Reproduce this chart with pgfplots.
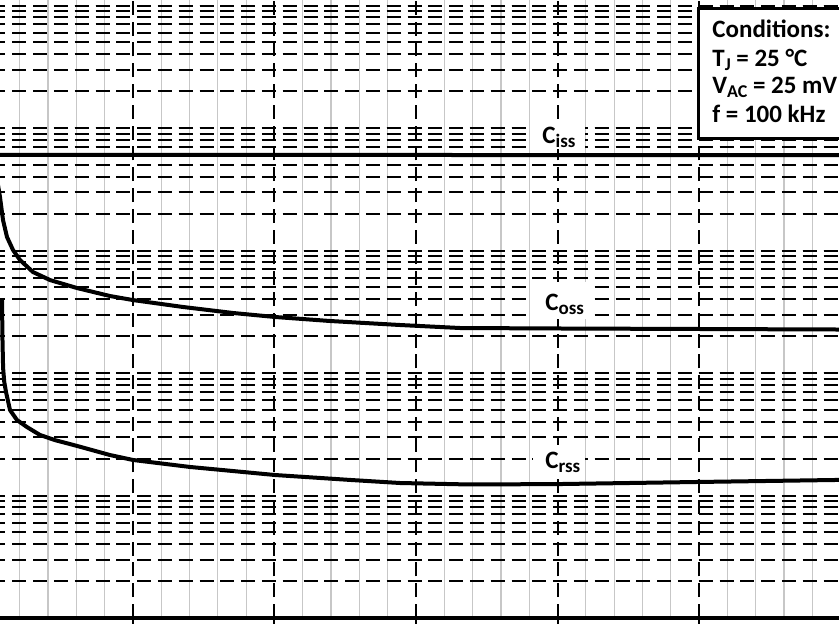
\documentclass[border=0pt]{standalone}
\usepackage{fontspec}
\setmainfont{Carlito}
\newfontfamily\lab{Carlito}[BoldFont={Carlito Bold}]
\usepackage{pgfplots}
\pgfplotsset{compat=1.18}
\begin{document}
\begin{tikzpicture}
\useasboundingbox (0,0) rectangle (419.5pt,311.5pt);
\clip (0,0) rectangle (419.5pt,311.5pt);
\begin{axis}[
  at={(-4.25pt,2.5pt)}, anchor=south west,
  scale only axis, width=424.5pt, height=367.5pt,
  xmin=0, xmax=600, ymode=log, ymin=1, ymax=1e6,
  axis x line*=bottom, axis y line*=left,
  x axis line style={line width=2pt},
  y axis line style={draw=none},
  xtick={0,100,...,600}, minor x tick num=4, xticklabels={},
  major tick length=4pt, minor tick length=0pt, tick align=outside,
  x tick style={line width=1pt, black},
  yticklabels={}, y tick style={draw=none},
  grid=both,
  major grid style={black, line width=1pt, dash pattern=on 7pt off 3.4pt},
  minor x grid style={black!22, line width=0.6pt, solid},
  minor y grid style={black, line width=1pt, dash pattern=on 7pt off 3.4pt},
]
% Ciss
\addplot[black, line width=2pt] coordinates {(0,6030) (100,6025) (300,6021) (600,6018)};
% Coss
\addplot[black, line width=2pt, line join=round] coordinates {
(3.2,4133) (4.6,3425) (6.0,2734) (8.13,1775) (10.95,1289) (15.19,1010) (20.14,836)
(29.33,667) (41.34,574) (60.42,494) (83.75,425) (100,394) (135.3,346) (170.7,309)
(200.4,286.6) (239.2,265.8) (288.7,246.5) (331.1,233) (400.4,230.9) (500,228.7) (598.9,226.5)};
% Crss
\addplot[black, line width=2pt, line join=round] coordinates {
(7.42,394) (7.77,186) (8.2,110) (9.0,85) (10.25,70) (13.07,49.9) (18.02,41.3) (25.09,36.2)
(34.28,31.2) (45,28.3) (60.42,25.4) (83.75,21.4) (100,19.5) (140.3,17.1) (200.4,14.7)
(253.4,13.4) (288.7,12.65) (338.2,12.3) (400.4,12.4) (500,12.9) (598.9,13.4)};
\end{axis}
% label backgrounds
\fill[white] (265pt,237pt) rectangle (292.5pt,251.5pt);
\fill[white] (266pt,152pt) rectangle (295pt,170.5pt);
\fill[white] (266.5pt,72.5pt) rectangle (292.5pt,89pt);
\node[anchor=base west, inner sep=0pt] at (271pt,240pt) {\lab\bfseries\fontsize{12.5}{14}\selectfont C\raisebox{-0.4ex}{\fontsize{9.5}{10}\selectfont iss}};
\node[anchor=base west, inner sep=0pt] at (272.5pt,156.5pt) {\lab\bfseries\fontsize{12.5}{14}\selectfont C\raisebox{-0.4ex}{\fontsize{9.5}{10}\selectfont oss}};
\node[anchor=base west, inner sep=0pt] at (272.5pt,77.5pt) {\lab\bfseries\fontsize{12.5}{14}\selectfont C\raisebox{-0.4ex}{\fontsize{9.5}{10}\selectfont rss}};
% conditions box
\draw[line width=1.5pt, fill=white] (349pt,307pt) rectangle (432pt,242.5pt);
\begin{scope}[every node/.style={anchor=base west, inner sep=0pt, font=\lab\bfseries\fontsize{12.5}{14}\selectfont}]
\node at (356pt,293pt) {Conditions:};
\node at (356pt,278.5pt) {T\raisebox{-0.4ex}{\fontsize{9}{10}\selectfont J} = 25 °C};
\node at (356pt,265pt) {V\raisebox{-0.4ex}{\fontsize{9}{10}\selectfont AC} = 25 mV};
\node at (356pt,250.5pt) {f = 100 kHz};
\end{scope}
\end{tikzpicture}
\end{document}
